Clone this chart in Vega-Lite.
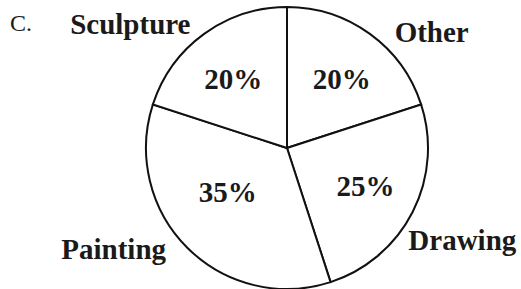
{
  "$schema": "https://vega.github.io/schema/vega-lite/v6.json",
  "width": 468,
  "height": 282,
  "autosize": {"type": "none"},
  "padding": {"left": 53, "top": 7, "right": 0, "bottom": 0},
  "background": "white",
  "config": {"view": {"stroke": null}},
  "title": {
    "text": "C.",
    "anchor": "start",
    "font": "Liberation Serif",
    "fontSize": 24,
    "fontWeight": "normal",
    "color": "#1a1a1a",
    "offset": 0,
    "dx": -43,
    "dy": 33
  },
  "data": {
    "values": [
      {"rank": 1, "category": "Other", "value": 20, "label": "20%"},
      {"rank": 2, "category": "Drawing", "value": 25, "label": "25%"},
      {"rank": 3, "category": "Painting", "value": 35, "label": "35%"},
      {"rank": 4, "category": "Sculpture", "value": 20, "label": "20%"}
    ]
  },
  "encoding": {
    "theta": {"field": "value", "type": "quantitative", "stack": true},
    "order": {"field": "rank", "type": "quantitative", "sort": "ascending"}
  },
  "layer": [
    {
      "mark": {"type": "arc", "radius": 141, "fill": "white", "stroke": "#111111", "strokeWidth": 2}
    },
    {
      "mark": {
        "type": "text",
        "radius": 88,
        "font": "Liberation Serif",
        "fontWeight": "bold",
        "fontSize": 29,
        "color": "#1a1a1a",
        "align": "center",
        "baseline": "middle",
        "dx": {"expr": "datum.category == 'Painting' ? 3 : datum.category == 'Other' ? 3 : datum.category == 'Sculpture' ? -2 : 0"},
        "dy": {"expr": "datum.category == 'Painting' ? -17 : datum.category == 'Other' ? 3 : datum.category == 'Sculpture' ? 3 : -1"}
      },
      "encoding": {"text": {"field": "label"}}
    },
    {
      "mark": {
        "type": "text",
        "radius": 190,
        "font": "Liberation Serif",
        "fontWeight": "bold",
        "fontSize": 29,
        "color": "#1a1a1a",
        "align": "center",
        "baseline": "middle",
        "dx": {"expr": "datum.category == 'Other' ? 33 : datum.category == 'Drawing' ? 6 : datum.category == 'Painting' ? -39 : -45"},
        "dy": {"expr": "datum.category == 'Other' ? 39 : datum.category == 'Drawing' ? 7 : datum.category == 'Painting' ? -32 : 31"}
      },
      "encoding": {"text": {"field": "category"}}
    }
  ]
}
